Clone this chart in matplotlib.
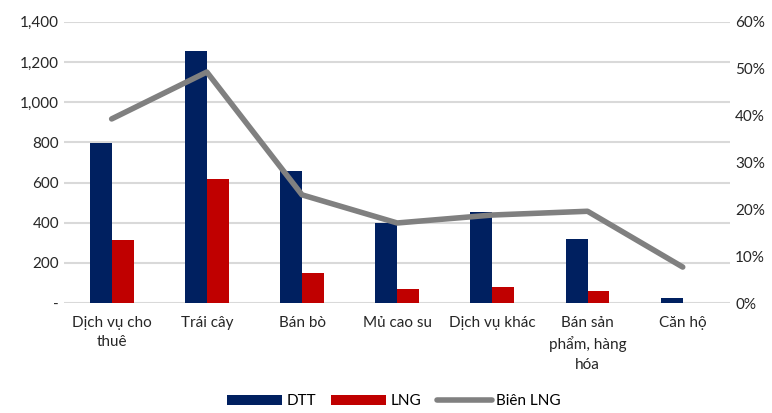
import matplotlib.pyplot as plt
import numpy as np
from matplotlib.ticker import FuncFormatter

plt.rcParams['font.family'] = ['Lato', 'DejaVu Sans']

categories = ['Dịch vụ cho\nthuê', 'Trái cây', 'Bán bò', 'Mủ cao su',
              'Dịch vụ khác', 'Bán sản\nphẩm, hàng\nhóa', 'Căn hộ']
dtt = [797, 1256, 658, 400, 453, 319, 25]
lng = [313, 617, 150, 68, 82, 62, 1]
bien_lng = [0.393, 0.493, 0.231, 0.171, 0.188, 0.196, 0.077]

navy = '#002060'
red = '#c00000'
gray = '#808080'

fig = plt.figure(figsize=(7.72, 4.13), dpi=100)
ax = fig.add_axes([0.083, 0.266, 0.863, 0.681])
x = np.arange(len(categories))
w = 0.23

ax.set_axisbelow(True)
ax.yaxis.grid(True, color='#d9d9d9', linewidth=1.5)
b1 = ax.bar(x - w / 2, dtt, w, color=navy, label='DTT')
b2 = ax.bar(x + w / 2, lng, w, color=red, label='LNG')
ax.set_ylim(0, 1400)
ax.set_yticks(np.arange(0, 1401, 200))
ax.yaxis.set_major_formatter(FuncFormatter(lambda v, p: '-' if v == 0 else f'{v:,.0f}'))
ax.set_xlim(-0.5, len(categories) - 0.5)
ax.set_xticks(x)
ax.set_xticklabels(categories, fontsize=11, color='#262626', va='top', linespacing=1.5)
ax.tick_params(axis='both', length=0, labelsize=11, colors='#262626')
ax.tick_params(axis='x', pad=9)
for s in ax.spines.values():
    s.set_visible(False)

ax2 = ax.twinx()
l1, = ax2.plot(x, bien_lng, color=gray, linewidth=4, solid_capstyle='round', label='Biên LNG')
ax2.set_ylim(0, 0.6)
ax2.set_yticks(np.arange(0, 0.61, 0.1))
ax2.yaxis.set_major_formatter(FuncFormatter(lambda v, p: f'{v*100:.0f}%'))
ax2.tick_params(axis='y', length=0, labelsize=11, colors='#262626')
for s in ax2.spines.values():
    s.set_visible(False)

fig.legend(handles=[b1, b2, l1], loc='lower center', bbox_to_anchor=(0.51, -0.022),
           ncol=3, frameon=False, fontsize=11, handlelength=3.6, handleheight=0.6,
           columnspacing=1.0, handletextpad=0.3)

fig.savefig('out.png', dpi=100)
